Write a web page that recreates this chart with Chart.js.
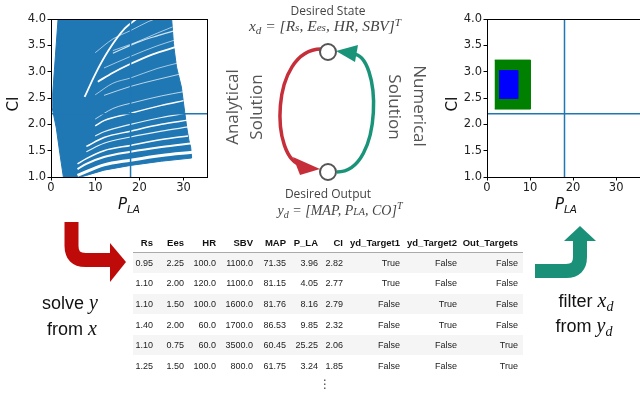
<!DOCTYPE html>
<html>
<head>
<meta charset="utf-8">
<script src="https://cdn.jsdelivr.net/npm/chart.js@4.4.1/dist/chart.umd.min.js"></script>
<style>
  body { margin: 0; background: #fff; }
  #figure { position: relative; width: 640px; height: 396px; overflow: hidden; background: #fff; }
  #figure canvas { position: absolute; }
  .lbl { position: absolute; white-space: nowrap; transform: translate(-50%, -50%); }
  .axis-title { font-family: "DejaVu Sans", sans-serif; font-size: 15px; color: #111; }
  .axis-title sub { font-size: 10.5px; font-style: italic; vertical-align: -4px; }
  .rot-l { transform: translate(-50%, -50%) rotate(-90deg); }
  .rot-r { transform: translate(-50%, -50%) rotate(90deg); }
  .caption { font-family: "Open Sans", "Noto Sans", sans-serif; color: #444; }
  .math { font-family: "Liberation Serif", "Times New Roman", serif; font-style: italic; font-size: 14px; color: #444; }
  .math .sm { font-size: 0.72em; }
  .math .sb { font-size: 0.72em; vertical-align: -0.3em; }
  .math .sp { font-size: 0.72em; vertical-align: 0.5em; }
  .side { font-family: "Open Sans", "Noto Sans", sans-serif; font-size: 17px; color: #555; }
  .step { font-family: "Liberation Sans", Arial, sans-serif; font-size: 18px; color: #111; }
  .step i { font-family: "Liberation Serif", serif; font-size: 20px; }
  .step sub { font-family: "Liberation Serif", serif; font-style: italic; font-size: 14px; vertical-align: -4px; }
  .cell { position: absolute; white-space: nowrap; font-family: "Liberation Sans", Arial, sans-serif; font-size: 9px; color: #222; transform: translate(-100%, -50%); }
  .cell.head { font-weight: bold; font-size: 9.5px; color: #111; }
</style>
</head>
<body>
<div id="figure">
  <canvas id="sweep-chart" width="215" height="200" style="left:0;top:0;width:215px;height:200px"></canvas>
  <canvas id="filter-chart" width="210" height="200" style="left:440px;top:0;width:210px;height:200px"></canvas>

  <div class="lbl axis-title rot-l" style="left:13px;top:104px">CI</div>
  <div class="lbl axis-title" style="left:129px;top:205px"><i>P</i><sub>LA</sub></div>
  <div class="lbl axis-title rot-l" style="left:452px;top:104px">CI</div>
  <div class="lbl axis-title" style="left:566px;top:205px"><i>P</i><sub>LA</sub></div>

  <svg width="640" height="396" style="position:absolute;left:0;top:0">
    <path d="M321 49 C270 50 270 160 302 165" fill="none" stroke="#c62f3a" stroke-width="3.5"/>
    <polygon points="293,157 320,169 300,175" fill="#c62f3a"/>
    <path d="M337 172 C384 172 382 52 352 54" fill="none" stroke="#1a9479" stroke-width="3.5"/>
    <polygon points="336,51 358,45 355,62" fill="#1a9479"/>
    <circle cx="328" cy="52" r="8" fill="#fff" stroke="#555" stroke-width="2"/>
    <circle cx="328" cy="172" r="8" fill="#fff" stroke="#555" stroke-width="2"/>
    <path d="M71.5 222 V246 Q71.5 260 85.5 260 H112" fill="none" stroke="#bf0a0a" stroke-width="14"/>
    <polygon points="110,243 126,262 110,282" fill="#bf0a0a"/>
    <path d="M535 271 H566 Q580 271 580 257 V238" fill="none" stroke="#1a9079" stroke-width="14"/>
    <polygon points="580,226 564,241 596,241" fill="#1a9079"/>
  </svg>

  <div class="lbl caption" style="left:328px;top:10px;font-size:12px">Desired State</div>
  <div class="lbl math" style="left:325px;top:26px;font-size:15.5px">x<span class="sb">d</span> = [R<span class="sm">s</span>, E<span class="sm">es</span>, HR, SBV]<span class="sp">T</span></div>
  <div class="lbl caption" style="left:328px;top:193px;font-size:12px">Desired Output</div>
  <div class="lbl math" style="left:340px;top:210px">y<span class="sb">d</span> = [MAP, P<span class="sm">LA</span>, CO]<span class="sp">T</span></div>

  <div class="lbl side rot-l" style="left:231px;top:107px">Analytical</div>
  <div class="lbl side rot-l" style="left:255px;top:107px">Solution</div>
  <div class="lbl side rot-r" style="left:420px;top:106px">Numerical</div>
  <div class="lbl side rot-r" style="left:395px;top:107px">Solution</div>

  <div class="lbl step" style="left:70px;top:302px">solve <i>y</i></div>
  <div class="lbl step" style="left:72px;top:328px">from <i>x</i></div>
  <div class="lbl step" style="left:586px;top:302px">filter <i>x</i><sub>d</sub></div>
  <div class="lbl step" style="left:584px;top:327px">from <i>y</i><sub>d</sub></div>

  <div id="table"></div>
</div>

<script>
// shared axes (P_LA in mmHg, CI in L/min/m2)
const pLaTicks = [0, 10, 20, 30];
const ciTicks = [1.0, 1.5, 2.0, 2.5, 3.0, 3.5, 4.0];
const pLaTarget = 18;
const ciTarget = 2.2;

// left panel: outline of the swept CI vs P_LA curves
const sweepOutline = [
  [2.8, 1.0], [2.0, 1.45], [1.2, 1.93], [0.3, 2.3], [0.4, 2.6], [1.0, 3.3], [1.6, 4.0],
  [27.3, 4.0], [27.7, 3.54], [28.4, 3.09], [29.5, 2.71], [30.1, 2.33], [30.7, 1.95],
  [31.2, 1.7], [31.6, 1.57], [31.8, 1.39], [31.8, 1.36],
  [25, 1.3], [18, 1.22], [12, 1.13], [8, 1.03], [6.6, 1.0]
];

// white gaps between the curve families
const sweepGaps = [
  [[6, 1.03], [12, 1.23], [18, 1.32], [25, 1.41], [32, 1.47]],
  [[6, 1.15], [8, 1.25], [12, 1.38], [18, 1.48], [25, 1.57], [32, 1.64]],
  [[6, 1.25], [8, 1.35], [12, 1.5], [18, 1.6], [25, 1.71], [31, 1.78]],
  [[8, 1.48], [12, 1.64], [18, 1.76], [25, 1.87], [31, 1.95]],
  [[8, 1.58], [12, 1.75], [18, 1.87], [25, 2.0], [31, 2.08]],
  [[10, 1.78], [12, 1.86], [18, 2.0], [25, 2.13], [31, 2.22]],
  [[10, 1.97], [12, 2.07], [18, 2.21], [25, 2.36], [30, 2.45]],
  [[10, 2.1], [14, 2.3], [19, 2.42], [25, 2.54], [30, 2.62]],
  [[12, 2.55], [18, 2.72], [24, 2.85], [29, 2.95]],
  [[10.6, 2.81], [14, 2.98], [17.8, 3.14], [23, 3.33], [28.3, 3.47]],
  [[14, 3.35], [20, 3.57], [24, 3.68], [28, 3.78]],
  [[7.6, 2.52], [10, 2.95], [13, 3.4], [16.7, 3.82], [19.3, 4.0]],
  [[10, 2.56], [14, 2.78], [18, 2.88], [24, 3.06], [29, 3.17]],
  [[12, 3.07], [18, 3.29], [24, 3.49], [28, 3.6]],
  [[14, 3.4], [19, 3.55], [24, 3.73], [27.5, 3.85]],
  [[10, 3.36], [14, 3.62], [18, 3.78], [22, 3.95], [23.5, 4.0]]
];
const sweepGapWidths = [3, 2, 1.5, 1.2, 1.5, 1.2, 1.5, 1, 1, 1.8, 1.2, 1.8, 1, 1, 1, 1];
const sweepGapAlpha = [1, 1, 1, 0.9, 1, 0.9, 1, 0.7, 0.7, 1, 0.8, 1, 0.6, 0.6, 0.6, 0.6];

// right panel: filtered states for each target
const target2Pla = [1.8, 10.1];
const target2Ci = [2.29, 3.22];
const target1Pla = [2.8, 7.2];
const target1Ci = [2.49, 3.02];

// table of sampled states
const tableColumns = ["Rs", "Ees", "HR", "SBV", "MAP", "P_LA", "CI", "yd_Target1", "yd_Target2", "Out_Targets"];
const tableRows = [
  ["0.95", "2.25", "100.0", "1100.0", "71.35", "3.96", "2.82", "True", "False", "False"],
  ["1.10", "2.00", "120.0", "1100.0", "81.15", "4.05", "2.77", "True", "False", "False"],
  ["1.10", "1.50", "100.0", "1600.0", "81.76", "8.16", "2.79", "False", "True", "False"],
  ["1.40", "2.00", "60.0", "1700.0", "86.53", "9.85", "2.32", "False", "True", "False"],
  ["1.10", "0.75", "60.0", "3500.0", "60.45", "25.25", "2.06", "False", "False", "True"],
  ["1.25", "1.50", "100.0", "800.0", "61.75", "3.24", "1.85", "False", "False", "True"]
];

const blue = "#1f77b4";
const toPoints = (list) => list.map(([x, y]) => ({ x, y }));
const boxPoints = (xs, ys) => toPoints([[xs[0], ys[0]], [xs[1], ys[0]], [xs[1], ys[1]], [xs[0], ys[1]]]);

const frameBox = {
  id: "frameBox",
  afterDraw(chart) {
    const { ctx, chartArea: a } = chart;
    ctx.save();
    ctx.strokeStyle = "#000";
    ctx.lineWidth = 1;
    ctx.strokeRect(Math.round(a.left) + 0.5, Math.round(a.top) + 0.5, Math.round(a.right - a.left), Math.round(a.bottom - a.top));
    ctx.restore();
  }
};

function axes(xMax, yWidth) {
  const tickFont = { family: "DejaVu Sans", size: 11.5 };
  const grid = { drawOnChartArea: false, tickLength: 3.5, tickColor: "#000", tickWidth: 1 };
  return {
    x: {
      type: "linear", min: 0, max: xMax,
      afterBuildTicks: (s) => { s.ticks = pLaTicks.map((v) => ({ value: v })); },
      afterFit: (s) => { s.height = 23; },
      grid: grid,
      border: { color: "#000", width: 1 },
      ticks: { color: "#222", font: tickFont, padding: 1, maxRotation: 0, autoSkip: false }
    },
    y: {
      type: "linear", min: 1, max: 4,
      afterBuildTicks: (s) => { s.ticks = ciTicks.map((v) => ({ value: v })); },
      afterFit: (s) => { s.width = yWidth; },
      grid: grid,
      border: { color: "#000", width: 1 },
      ticks: { color: "#222", font: tickFont, padding: 1.5, autoSkip: false, callback: (v) => v.toFixed(1) }
    }
  };
}

function targetLines(xMax) {
  return [
    { data: toPoints([[pLaTarget, 1], [pLaTarget, 4]]), showLine: true, borderColor: blue, borderWidth: 1.5, pointRadius: 0, order: 0 },
    { data: toPoints([[0, ciTarget], [xMax, ciTarget]]), showLine: true, borderColor: blue, borderWidth: 1.5, pointRadius: 0, order: 0 }
  ];
}

const baseOptions = {
  responsive: false,
  animation: false,
  events: [],
  plugins: { legend: { display: false }, tooltip: { enabled: false } }
};

new Chart(document.getElementById("sweep-chart"), {
  type: "scatter",
  data: {
    datasets: [
      ...targetLines(35.3),
      ...sweepGaps.map((gap, i) => ({
        data: toPoints(gap),
        showLine: true,
        borderColor: `rgba(255,255,255,${sweepGapAlpha[i]})`,
        borderWidth: sweepGapWidths[i],
        pointRadius: 0,
        cubicInterpolationMode: "monotone",
        order: 1
      })),
      {
        data: toPoints(sweepOutline),
        showLine: true,
        fill: "shape",
        backgroundColor: blue,
        borderColor: blue,
        borderWidth: 1,
        pointRadius: 0,
        order: 2
      }
    ]
  },
  options: {
    ...baseOptions,
    layout: { padding: { top: 19, right: 8, left: 0, bottom: 0 } },
    scales: axes(35.3, 51)
  },
  plugins: [frameBox]
});

new Chart(document.getElementById("filter-chart"), {
  type: "scatter",
  data: {
    datasets: [
      ...targetLines(36),
      { data: boxPoints(target1Pla, target1Ci), showLine: true, fill: "shape", backgroundColor: "#0000ff", borderColor: "#0000ff", borderWidth: 1, pointRadius: 0, order: 1 },
      { data: boxPoints(target2Pla, target2Ci), showLine: true, fill: "shape", backgroundColor: "#008000", borderColor: "#008000", borderWidth: 1, pointRadius: 0, order: 2 }
    ]
  },
  options: {
    ...baseOptions,
    layout: { padding: { top: 19, right: 8, left: 0, bottom: 0 } },
    scales: axes(36, 47)
  },
  plugins: [frameBox]
});

// table built from the arrays above
const colRight = [153, 184, 216, 253, 286, 318, 343, 400, 457, 518];
const tableLeft = 133, tableRight = 523, headerY = 242, rowTop = 252.5, rowH = 20.6;
const table = document.getElementById("table");
let html = `<div style="position:absolute;left:${tableLeft}px;top:${rowTop - 1}px;width:${tableRight - tableLeft}px;height:1px;background:#aaa"></div>`;
tableRows.forEach((row, r) => {
  if (r % 2 === 0) {
    html += `<div style="position:absolute;left:${tableLeft}px;top:${rowTop + r * rowH}px;width:${tableRight - tableLeft}px;height:${rowH}px;background:#f5f5f5"></div>`;
  }
});
tableColumns.forEach((name, c) => {
  html += `<div class="cell head" style="left:${colRight[c]}px;top:${headerY}px">${name}</div>`;
});
tableRows.forEach((row, r) => {
  row.forEach((val, c) => {
    html += `<div class="cell" style="left:${colRight[c]}px;top:${rowTop + r * rowH + rowH / 2}px">${val}</div>`;
  });
});
html += `<div class="lbl" style="left:325px;top:384px;font-family:'DejaVu Sans';font-size:12px;color:#444">⋮</div>`;
table.innerHTML = html;
</script>
</body>
</html>
